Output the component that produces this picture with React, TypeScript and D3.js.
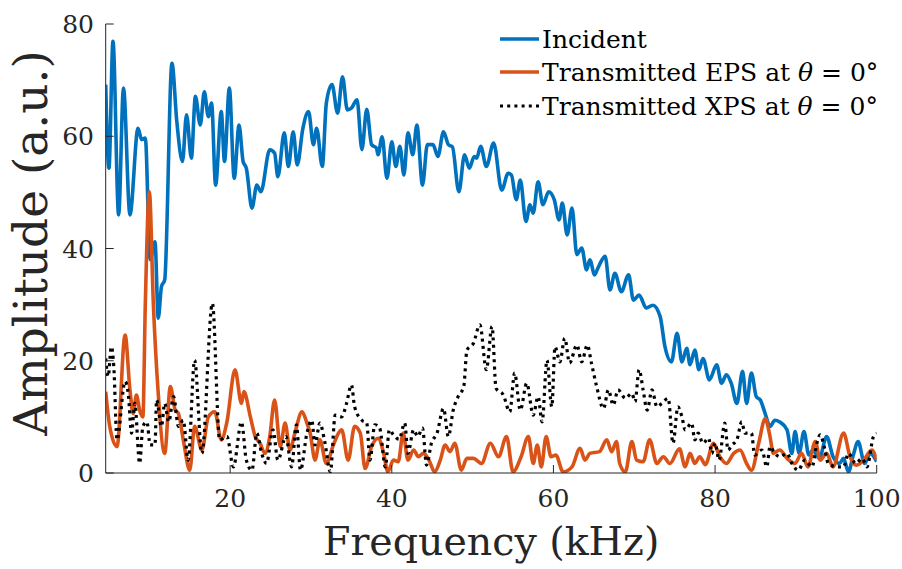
import React from "react";
import * as d3 from "d3";

// Incident pulse spectrum
const incidentFreq = [4.6,5.0,5.5,6.2,6.8,7.6,8.6,9.05,9.5,10.1,10.7,11.1,11.5,11.9,12.8,13.4,14.1,14.6,15.2,15.7,16.3,16.8,17.3,17.7,18.2,18.9,19.3,19.9,20.5,21.1,21.6,22.0,22.7,23.3,23.8,24.9,25.5,25.9,26.7,27.2,27.8,28.3,29.0,29.7,30.3,30.7,31.4,31.9,32.6,33.3,33.9,34.5,35.0,35.7,36.3,36.9,37.5,38.1,38.3,38.8,39.4,40.0,40.5,41.0,41.5,42.0,42.6,43.1,43.8,44.4,45.1,45.7,46.4,47.0,47.5,48.3,49.0,49.6,50.2,50.5,51.0,51.7,52.6,53.6,54.4,54.8,55.4,55.9,56.6,57.1,57.5,58.1,58.7,59.4,60.1,60.7,61.1,61.7,62.3,62.9,63.5,64.1,64.5,65.1,65.5,66.4,67.0,67.6,68.4,69.3,69.9,70.6,71.5,72.3,73.2,73.8,74.6,75.3,75.9,76.5,76.9,77.5,78.0,78.5,79.3,80.2,80.8,81.4,82.0,82.7,83.4,83.9,84.5,85.1,85.6,86.2,86.8,87.4,88.0,88.9,89.5,89.9,90.4,91.0,91.6,92.1,92.9,93.8,94.6,95.4,95.9,96.5,97.1,97.7,98.5,99.2,100];
const incidentAmp = [69.2,54.3,76.9,46,68.6,46,61.4,59.4,59.7,38,41.2,27.6,33.2,34.4,73.0,62.6,55.5,63.8,56.1,67.1,62.0,67.9,63.5,65.9,51.3,64.4,55.5,68.6,52.5,62.0,55.5,54.3,47.2,51.3,50.1,57.6,57.0,52.8,60.6,54.6,60.8,54.9,61.4,64.4,58.5,61.4,54.6,65.9,69.2,64.1,70.6,64.7,65.0,66.5,57.6,64.8,58.5,57.9,56.7,59.9,52.5,59.0,54.6,58.2,53.1,60.6,56.7,62.0,51.3,58.5,58.5,56.4,60.8,58.5,58.1,50.1,56.7,54.3,56.4,56.1,58.2,54.6,58.8,50.4,53.4,53.1,48.7,52.2,44.8,47.8,46.3,51.9,47.8,50.1,48.7,45.1,48.1,42.4,47.2,38.9,40.1,36.2,38.0,35.3,36.5,38.6,32.6,35.6,32.3,35.3,30.8,31.7,29.4,29.9,27.9,22.5,19.8,24.9,19.8,22.2,19.3,21.9,18.4,20.4,16.6,19.3,16.0,17.5,16.0,12.4,18.1,12.4,17.8,13.6,13.0,10.6,8.3,9.4,9.1,7.7,3.5,7.4,3.5,7.4,3.2,4.1,2.6,6.5,2.9,1.7,2.6,0.2,3.2,5.6,1.7,3.5,2.0];

// Transmitted EPS spectrum
const epsFreq = [4.6,5.1,6.0,7.0,7.6,8.0,8.4,8.8,9.2,9.5,10.0,10.5,11.1,11.9,12.6,13.2,13.6,14.2,15.0,15.6,16.5,17.3,18.1,18.9,19.6,20.6,21.4,21.7,22.5,23.1,23.7,24.3,24.9,25.5,26.2,26.8,27.4,28.0,28.9,29.5,29.9,30.5,31.1,31.9,32.7,33.4,33.8,34.6,35.4,36.1,36.7,37.5,38.3,39.0,39.5,40.2,40.8,41.4,42.0,42.7,43.3,43.9,44.6,45.3,46.0,46.6,47.2,47.8,48.6,49.3,50.1,51.1,52.2,53.2,54.2,55.0,56.0,56.9,57.5,58.0,58.5,59.1,59.7,60.3,61.2,62.3,63.3,63.9,64.5,65.7,66.6,67.2,67.8,68.2,68.9,69.7,70.3,71.1,71.9,72.8,73.6,74.4,75.6,76.3,76.9,77.5,78.1,78.8,79.8,80.6,81.4,82.3,83.1,83.9,84.5,85.4,86.2,86.8,87.2,88.0,88.9,89.9,90.7,91.5,92.4,93.0,93.8,94.6,95.9,96.7,97.5,98.4,99.4,100];
const epsAmp = [14.5,8.3,4.7,24.6,14.8,10.6,13.9,11.2,10.0,30.0,50.1,30.0,14.2,3.5,15.4,11.2,10.6,5.9,0.5,8.3,4.1,10.0,10.9,5.9,9.1,18.4,12.4,14.5,10.0,6.5,5.3,3.5,6.5,13.0,4.7,8.9,4.1,7.1,10.9,8.9,7.1,2.3,5.9,1.7,4.7,7.1,7.7,2.3,8.3,7.1,0.8,4.7,6.2,3.5,0.2,2.3,2.0,7.1,2.3,4.1,2.9,3.5,2.3,0.2,2.3,5.0,3.8,5.3,0.5,2.6,2.6,1.7,5.3,2.9,6.5,0.2,2.9,6.5,1.7,5.0,1.1,6.5,2.9,3.2,0.2,1.1,4.4,2.3,3.5,3.8,5.9,3.8,5.6,1.7,0.2,5.6,2.3,2.0,5.9,1.7,2.9,1.7,4.3,1.1,3.5,1.7,2.9,1.5,5.3,2.9,1.7,3.5,4.1,1.7,0.5,5.3,9.7,6.5,3.5,4.1,2.6,1.7,3.5,1.1,5.6,2.3,3.5,1.1,7.1,2.9,1.4,2.3,4.1,2.3];

// Transmitted XPS spectrum
const xpsFreq = [4.6,4.9,5.3,5.6,6.0,7.0,7.4,7.8,8.2,8.8,9.2,9.7,10.1,10.7,10.9,11.5,11.9,12.4,13.0,13.6,14.2,14.8,15.6,16.5,17.8,18.7,19.6,20.4,21.4,22.0,22.7,23.3,23.9,24.5,25.3,25.9,26.9,27.6,28.2,28.7,29.5,30.1,30.5,31.1,31.7,32.4,33.0,33.8,34.4,35.0,35.4,36.3,36.9,37.3,37.9,38.5,39.2,39.7,40.2,40.9,41.6,42.0,42.7,43.2,43.8,44.3,44.9,45.6,46.4,47.0,47.6,48.2,48.9,49.3,50.1,50.9,51.7,52.4,52.9,53.8,54.6,55.2,55.9,56.7,57.5,58.1,58.6,59.2,59.8,60.2,60.8,61.4,62.0,62.9,63.5,64.2,64.7,65.3,66.2,66.8,67.4,68.0,68.9,69.7,70.1,70.6,71.1,71.6,72.2,72.8,73.4,74.2,74.8,75.4,75.9,76.3,77.1,77.5,77.9,78.5,79.2,79.6,80.0,80.5,81.2,81.6,82.1,82.7,83.3,83.7,84.5,84.9,85.8,86.4,86.8,87.4,88.0,88.9,89.5,90.3,91.1,92.0,92.6,93.0,93.6,94.0,95.1,95.9,96.5,97.4,98.2,98.8,99.6,100];
const xpsAmp = [20.4,17.2,22.5,19,5.9,16.3,14,7.1,12.4,1.7,8.3,9.1,5.0,5.0,13.0,8.3,12.4,9.1,13.6,8.3,9.4,2.3,20.1,3.5,30.2,5.9,6.5,1.1,9.1,2.3,0.5,7.1,3.5,1.7,7.7,2.3,6.5,1.1,8.6,0.5,7.1,9.4,5.0,8.9,5.6,0.2,10.3,10.0,12.4,15.7,11.8,9.4,8.9,2.3,8.6,8.0,1.1,7.7,6.8,6.0,8.9,3.5,7.7,6.5,8.0,1.4,5.3,7.1,11.5,6.5,11.2,13.6,15.4,21.9,23.1,26.4,18.4,26.1,15.1,13.9,10.9,17.8,11.2,16.0,10.3,13.6,9.1,20.1,11.8,22.5,19.8,24.0,19.6,22.8,19.8,22.8,19.6,15.7,11.5,14.8,12.1,14.8,13.3,14.2,12.7,18.4,14.8,11.2,14.8,11.8,12.4,13.3,5.3,11.8,10.0,7.7,8.9,5.9,7.1,5.3,6.2,3.5,5.3,2.3,8.9,4.1,5.0,5.9,9.1,7.1,7.1,3.2,4.1,1.1,4.7,3.5,2.9,3.5,1.7,0.5,2.3,1.1,5.3,6.8,4.1,1.7,1.1,1.1,3.5,1.7,2.6,1.1,6.5,7.1];

const xTicks = [20, 40, 60, 80, 100];
const yTicks = [0, 20, 40, 60, 80];
const legendLabels = ["Incident", "Transmitted EPS at ", "Transmitted XPS at "];

const W = 902;
const H = 569;
const margin = { left: 105.7, right: 25.3, top: 24, bottom: 96 };
const axisColor = "#262626";
const font = "'DejaVu Serif', 'Liberation Serif', serif";

type Pt = [number, number];
const zip = (xs: number[], ys: number[]): Pt[] => xs.map((x, i) => [x, ys[i]]);

export default function App() {
  const x = d3.scaleLinear().domain([4.6, 100]).range([margin.left, W - margin.right]);
  const y = d3.scaleLinear().domain([0, 80]).range([H - margin.bottom, margin.top]);
  const line = d3
    .line<Pt>()
    .x((d) => x(d[0]))
    .y((d) => y(d[1]))
    .curve(d3.curveMonotoneX);

  const series = [
    { data: zip(incidentFreq, incidentAmp), color: "#0072BD", width: 3.6, dash: undefined as string | undefined },
    { data: zip(epsFreq, epsAmp), color: "#D95319", width: 3.6, dash: undefined as string | undefined },
    { data: zip(xpsFreq, xpsAmp), color: "#000000", width: 3.2, dash: "3 4.2" },
  ];

  const x0 = x.range()[0];
  const x1 = x.range()[1];
  const y0 = y.range()[0];
  const y1 = y.range()[1];
  const tickLen = 8;

  const legendY = [39, 72, 106];

  return (
    <svg
      width={W}
      height={H}
      style={{ position: "absolute", left: 0, top: 0, background: "#fff" }}
      fontFamily={font}
    >
      <defs>
        <clipPath id="plotArea">
          <rect x={x0} y={y1 - 4} width={x1 - x0} height={y0 - y1 + 4} />
        </clipPath>
      </defs>

      <g clipPath="url(#plotArea)">
        {series.map((s, i) => (
          <path
            key={i}
            d={line(s.data) ?? ""}
            fill="none"
            stroke={s.color}
            strokeWidth={s.width}
            strokeDasharray={s.dash}
            strokeLinejoin="round"
          />
        ))}
      </g>

      {/* axes */}
      <line x1={x0} x2={x1} y1={y0} y2={y0} stroke={axisColor} strokeWidth={1} />
      <line x1={x0} x2={x0} y1={y0} y2={y1} stroke={axisColor} strokeWidth={1} />

      {xTicks.map((t) => (
        <g key={"x" + t}>
          <line x1={x(t)} x2={x(t)} y1={y0} y2={y0 - tickLen} stroke={axisColor} strokeWidth={1} />
          <text x={x(t)} y={507} textAnchor="middle" fontSize={25} fill={axisColor}>
            {t}
          </text>
        </g>
      ))}
      {yTicks.map((t) => (
        <g key={"y" + t}>
          <line x1={x0} x2={x0 + tickLen} y1={y(t)} y2={y(t)} stroke={axisColor} strokeWidth={1} />
          <text x={94} y={y(t)} dy="0.36em" textAnchor="end" fontSize={25} fill={axisColor}>
            {t}
          </text>
        </g>
      ))}

      <text x={(x0 + x1) / 2} y={555} textAnchor="middle" fontSize={39.5} fill={axisColor}>
        Frequency (kHz)
      </text>
      <text
        transform={`translate(47, 243) rotate(-90)`}
        textAnchor="middle"
        fontSize={47}
        fill={axisColor}
      >
        Amplitude (a.u.)
      </text>

      {/* legend */}
      {series.map((s, i) => (
        <g key={"lg" + i}>
          <line
            x1={500}
            x2={539}
            y1={legendY[i]}
            y2={legendY[i]}
            stroke={s.color}
            strokeWidth={s.width}
            strokeDasharray={s.dash}
          />
          <text x={542} y={legendY[i] + 8.5} fontSize={25} fill="#000">
            {legendLabels[i]}
            {i > 0 && (
              <>
                <tspan fontStyle="italic">θ</tspan>
                <tspan> = 0°</tspan>
              </>
            )}
          </text>
        </g>
      ))}
    </svg>
  );
}
